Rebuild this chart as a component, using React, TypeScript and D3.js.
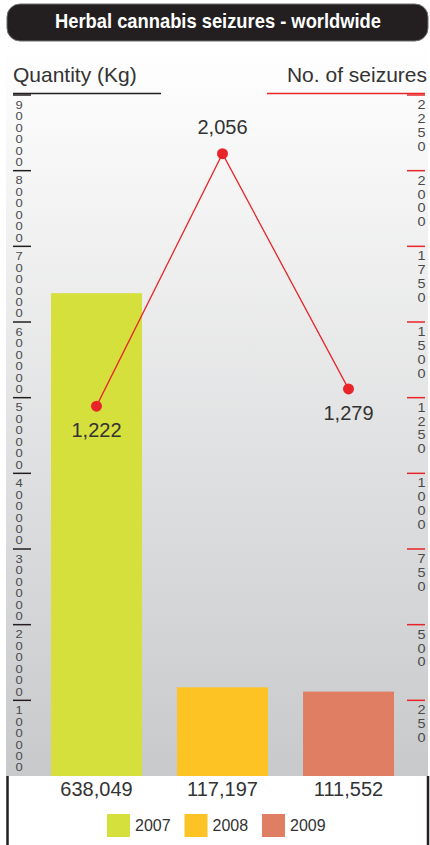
import React from 'react';
import * as d3 from 'd3';

// data
const years = ['2007', '2008', '2009'];
const quantities = [638049, 117197, 111552];
const seizures = [1222, 2056, 1279];
const barColors = ['#d5e03c', '#fdc324', '#e07e64'];
const qtyTicks = [100000, 200000, 300000, 400000, 500000, 600000, 700000, 800000, 900000];
const seizureTicks = [250, 500, 750, 1000, 1250, 1500, 1750, 2000, 2250];

const W = 430, H = 845;
const top = 95, bottom = 776;
const font = '"Liberation Sans", Arial, Helvetica, sans-serif';
const red = '#e8262a';
const fmt = d3.format(',');

const App = () => {
  const x = d3.scaleBand<string>().domain(years).range([51, 394]).paddingInner(0.278).paddingOuter(0);
  const yQty = d3.scaleLinear().domain([0, 900000]).range([bottom, top]);
  const ySz = d3.scaleLinear().domain([0, 2250]).range([bottom, top]);

  const line = d3.line<number>()
    .x((d, i) => x(years[i])! + x.bandwidth() / 2)
    .y(d => ySz(d));

  const isPeak = (i: number) =>
    seizures[i] >= (seizures[i - 1] ?? -Infinity) && seizures[i] >= (seizures[i + 1] ?? -Infinity);

  // digits stacked one under another (squeezed a bit vertically, like the original)
  const vertical = { writingMode: 'vertical-rl', textOrientation: 'upright' } as React.CSSProperties;

  return (
    <svg width={W} height={H} style={{ position: 'absolute', left: 0, top: 0, background: '#fff' }}>
      <defs>
        <linearGradient id="bg" x1="0" y1="0" x2="0" y2="1">
          <stop offset="0" stopColor="#ffffff" />
          <stop offset="1" stopColor="#c8c9cb" />
        </linearGradient>
      </defs>

      <rect x={6} y={44} width={422} height={bottom - 44} fill="url(#bg)" />

      {/* title */}
      <rect x={7} y={4} width={421} height={37} rx={13} fill="#231f20" stroke="#6d6e70" strokeWidth={1} />
      <text x={55} y={28} fill="#fff" fontFamily={font} fontWeight="bold" fontSize={21}
        textLength={326} lengthAdjust="spacingAndGlyphs">
        Herbal cannabis seizures - worldwide
      </text>

      {/* axis titles */}
      <text x={13} y={82} fontFamily={font} fontSize={21} fill="#333">Quantity (Kg)</text>
      <line x1={13} x2={161} y1={93.5} y2={93.5} stroke="#231f20" strokeWidth={1.5} />
      <text x={427} y={82} textAnchor="end" fontFamily={font} fontSize={21} fill="#333">No. of seizures</text>
      <line x1={267} x2={425} y1={93.5} y2={93.5} stroke={red} strokeWidth={1.5} />

      {/* left axis */}
      {qtyTicks.map(t => (
        <g key={t}>
          <line x1={13} x2={31} y1={yQty(t)} y2={yQty(t)} stroke="#231f20" strokeWidth={1.5} />
          <g transform={`translate(19,${yQty(t) + 4}) scale(1,0.8)`}>
            <text x={0} y={0} fontFamily={font} fontSize={13} fill="#4a4a4a" style={vertical}>{t}</text>
          </g>
        </g>
      ))}

      {/* right axis */}
      {seizureTicks.map(t => (
        <g key={t}>
          <line x1={407} x2={425} y1={ySz(t)} y2={ySz(t)} stroke={red} strokeWidth={1.5} />
          <g transform={`translate(421.5,${ySz(t) + 3}) scale(1,0.86)`}>
            <text x={0} y={0} fontFamily={font} fontSize={14.5} fill="#4a4a4a" style={vertical}>{t}</text>
          </g>
        </g>
      ))}

      {/* bars */}
      {years.map((yr, i) => (
        <rect key={yr} x={x(yr)} y={yQty(quantities[i])} width={x.bandwidth()}
          height={bottom - yQty(quantities[i])} fill={barColors[i]} />
      ))}

      {/* seizures line */}
      <path d={line(seizures) ?? ''} fill="none" stroke={red} strokeWidth={1.3} />
      {seizures.map((v, i) => {
        const cx = x(years[i])! + x.bandwidth() / 2;
        const cy = ySz(v);
        return (
          <g key={i}>
            <circle cx={cx} cy={cy} r={5.5} fill={red} />
            <text x={cx} y={isPeak(i) ? cy - 20 : cy + 31} textAnchor="middle" fontFamily={font}
              fontSize={20} fill="#333">{fmt(v)}</text>
          </g>
        );
      })}

      {/* bottom frame */}
      <line x1={7.5} x2={7.5} y1={bottom} y2={H} stroke="#231f20" strokeWidth={2.5} />
      <line x1={428} x2={428} y1={bottom} y2={H} stroke="#231f20" strokeWidth={2.5} />

      {years.map((yr, i) => (
        <text key={yr} x={x(yr)! + x.bandwidth() / 2} y={796} textAnchor="middle" fontFamily={font}
          fontSize={20} fill="#333">{fmt(quantities[i])}</text>
      ))}

      {/* legend */}
      {years.map((yr, i) => (
        <g key={yr} transform={`translate(${107 + i * 77.5},814)`}>
          <rect width={23} height={23} fill={barColors[i]} />
          <text x={28} y={17} fontFamily={font} fontSize={16} fill="#333">{yr}</text>
        </g>
      ))}
    </svg>
  );
};

export default App;
